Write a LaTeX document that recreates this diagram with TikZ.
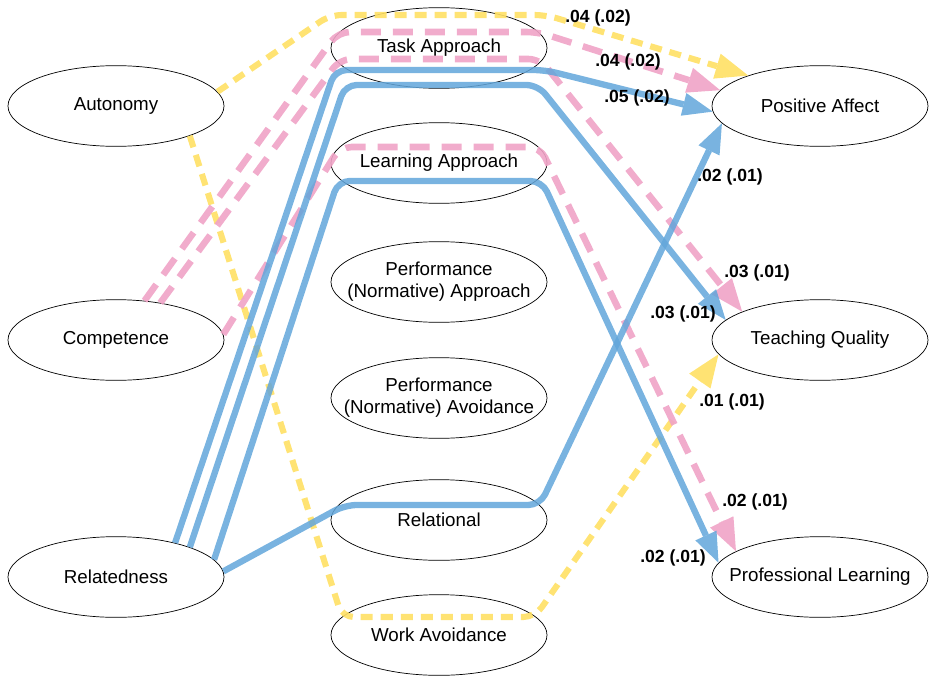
\documentclass[tikz,border=0pt]{standalone}
\usepackage{fontspec}
\setmainfont{Liberation Sans}
\usetikzlibrary{shapes.geometric,arrows.meta,calc}

\definecolor{pathblue}{RGB}{98,166,218}
\definecolor{pathpink}{RGB}{240,163,198}
\definecolor{pathyellow}{RGB}{255,224,100}

\tikzset{
  var/.style={ellipse, draw, line width=0.6pt, minimum width=6.48cm, minimum height=2.42cm,
    inner sep=0pt, label={[align=center, font=\fontsize{16}{19}\selectfont]center:#1}},
  est/.style={font=\bfseries\fontsize{15}{17}\selectfont, inner sep=1pt},
  bluepath/.style={draw=pathblue, opacity=0.85, line width=5.4pt, rounded corners=0.35cm,
    -{Triangle[length=0.9cm,width=0.7cm,line width=0pt]}},
  pinkpath/.style={draw=pathpink, opacity=0.9, line width=5.6pt, rounded corners=0.35cm,
    dash pattern=on 0.6cm off 0.36cm, -{Triangle[length=0.98cm,width=0.78cm,line width=0pt]}},
  yellowpath/.style={draw=pathyellow, opacity=0.9, line width=5.2pt, rounded corners=0.35cm,
    dash pattern=on 0.36cm off 0.24cm, -{Triangle[length=0.98cm,width=0.78cm,line width=0pt]}}
}

\begin{document}
\begin{tikzpicture}[x=0.03cm, y=-0.03cm]
            \useasboundingbox (0,0) rectangle (931,675);

            % Define vertices
            \node[var=Autonomy] (aut) at (116, 106) {};
            \node[var=Competence] (comp) at (116, 340) {};
            \node[var=Relatedness] (rel) at (116, 577) {};

            \node[var=Task Approach] (task) at (439, 48) {};
            \node[var=Learning Approach] (learn) at (439, 163) {};
            \node[var={Performance\\(Normative) Approach}] (perfapp) at (439, 282) {};
            \node[var={Performance\\(Normative) Avoidance}] (perfav) at (439, 398) {};
            \node[var=Relational] (relat) at (439, 520) {};
            \node[var=Work Avoidance] (work) at (439, 635) {};

            \node[var=Positive Affect] (pa) at (820, 106) {};
            \node[var=Teaching Quality] (tq) at (820, 340) {};
            \node[var=Professional Learning] (pl) at (820, 577) {};

            % Draw edges
            \draw[yellowpath] (aut.8) -- ($(task)+(-109,-33)$) -- ($(task)+(107,-33)$) -- (pa.157);
            \draw[yellowpath] (aut.-22) -- ($(work)+(-97,-18)$) -- ($(work)+(96,-18)$) -- (tq.188);

            \draw[pinkpath] (comp.54) -- ($(task)+(-101,-16)$) -- ($(task)+(99,-16)$) -- (pa.171);
            \draw[pinkpath] (comp.40) -- ($(task)+(-99,11)$) -- ($(task)+(101,11)$) -- (tq.160);
            \draw[pinkpath] (comp.3) -- ($(learn)+(-99,-16)$) -- ($(learn)+(101,-16)$) -- (pl.163);

            \draw[bluepath] (rel.30) -- ($(task)+(-104,22)$) -- ($(task)+(106,22)$) -- (pa.183);
            \draw[bluepath] (rel.22) -- ($(task)+(-94,37)$) -- ($(task)+(99,37)$) -- (tq.168);
            \draw[bluepath] (rel.10) -- ($(learn)+(-101,18)$) -- ($(learn)+(103,18)$) -- (pl.172);
            \draw[bluepath] (rel.3) -- ($(relat)+(-94,-15)$) -- ($(relat)+(101,-15)$) -- (pa.190);

            % Estimates
            \node[est] (e1) at (598, 18) {.04 (.02)};
            \node[est] (e2) at (628, 62) {.04 (.02)};
            \node[est] (e3) at (637, 98) {.05 (.02)};
            \node[est] (e4) at (730, 177) {.02 (.01)};
            \node[est] (e5) at (757, 273) {.03 (.01)};
            \node[est] (e6) at (683, 314) {.03 (.01)};
            \node[est] (e7) at (732, 402) {.01 (.01)};
            \node[est] (e8) at (755, 502) {.02 (.01)};
            \node[est] (e9) at (673, 558) {.02 (.01)};
        \end{tikzpicture}
\end{document}
